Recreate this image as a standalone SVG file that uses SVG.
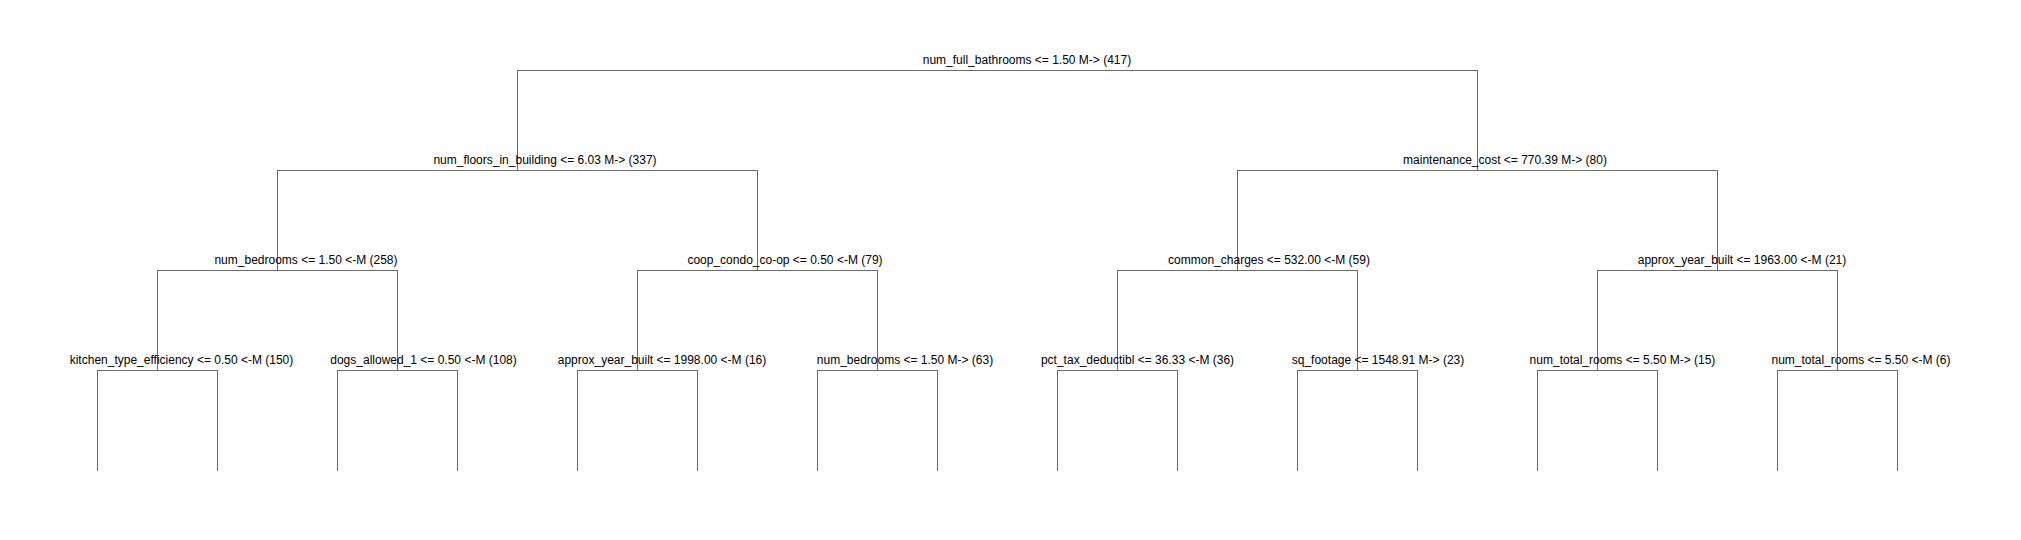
<svg xmlns="http://www.w3.org/2000/svg" width="2021" height="540" viewBox="0 0 2021 540">
<style>
  .bg { fill: #ffffff; }
  .lbl { font-family: "Liberation Sans", Arial, sans-serif; font-size: 12px; fill: #000000; text-anchor: middle; }
  .edge { fill: none; stroke: #6b6b6b; stroke-width: 1; shape-rendering: crispEdges; }
</style>
<rect class="bg" x="0" y="0" width="2021" height="540"/>
<g id="connectors">
  <!-- root split -->
  <path class="edge" d="M517.5,170.5 V70.5 H1477.5 V170.5"/>
  <!-- level 1 splits -->
  <path class="edge" d="M277.5,270.5 V170.5 H757.5 V270.5"/>
  <path class="edge" d="M1237.5,270.5 V170.5 H1717.5 V270.5"/>
  <!-- level 2 splits -->
  <path class="edge" d="M157.5,370.5 V270.5 H397.5 V370.5"/>
  <path class="edge" d="M637.5,370.5 V270.5 H877.5 V370.5"/>
  <path class="edge" d="M1117.5,370.5 V270.5 H1357.5 V370.5"/>
  <path class="edge" d="M1597.5,370.5 V270.5 H1837.5 V370.5"/>
  <!-- level 3 splits to leaves -->
  <path class="edge" d="M97.5,470.5 V370.5 H217.5 V470.5"/>
  <path class="edge" d="M337.5,470.5 V370.5 H457.5 V470.5"/>
  <path class="edge" d="M577.5,470.5 V370.5 H697.5 V470.5"/>
  <path class="edge" d="M817.5,470.5 V370.5 H937.5 V470.5"/>
  <path class="edge" d="M1057.5,470.5 V370.5 H1177.5 V470.5"/>
  <path class="edge" d="M1297.5,470.5 V370.5 H1417.5 V470.5"/>
  <path class="edge" d="M1537.5,470.5 V370.5 H1657.5 V470.5"/>
  <path class="edge" d="M1777.5,470.5 V370.5 H1897.5 V470.5"/>
</g>
<g id="node-root"><text class="lbl" x="1027" y="64">num_full_bathrooms &lt;= 1.50 M-&gt; (417)</text></g>
<g id="node-num-floors"><text class="lbl" x="545" y="164">num_floors_in_building &lt;= 6.03 M-&gt; (337)</text></g>
<g id="node-maintenance"><text class="lbl" x="1505" y="164">maintenance_cost &lt;= 770.39 M-&gt; (80)</text></g>
<g id="node-num-bedrooms-258"><text class="lbl" x="306" y="264">num_bedrooms &lt;= 1.50 &lt;-M (258)</text></g>
<g id="node-coop"><text class="lbl" x="785" y="264">coop_condo_co-op &lt;= 0.50 &lt;-M (79)</text></g>
<g id="node-common-charges"><text class="lbl" x="1269" y="264">common_charges &lt;= 532.00 &lt;-M (59)</text></g>
<g id="node-approx-1963"><text class="lbl" x="1742" y="264">approx_year_built &lt;= 1963.00 &lt;-M (21)</text></g>
<g id="node-kitchen"><text class="lbl" x="181.5" y="364">kitchen_type_efficiency &lt;= 0.50 &lt;-M (150)</text></g>
<g id="node-dogs"><text class="lbl" x="423.5" y="364">dogs_allowed_1 &lt;= 0.50 &lt;-M (108)</text></g>
<g id="node-approx-1998"><text class="lbl" x="662" y="364">approx_year_built &lt;= 1998.00 &lt;-M (16)</text></g>
<g id="node-num-bedrooms-63"><text class="lbl" x="905" y="364">num_bedrooms &lt;= 1.50 M-&gt; (63)</text></g>
<g id="node-pct-tax"><text class="lbl" x="1137.5" y="364">pct_tax_deductibl &lt;= 36.33 &lt;-M (36)</text></g>
<g id="node-sq-footage"><text class="lbl" x="1378" y="364">sq_footage &lt;= 1548.91 M-&gt; (23)</text></g>
<g id="node-total-rooms-15"><text class="lbl" x="1622.5" y="364">num_total_rooms &lt;= 5.50 M-&gt; (15)</text></g>
<g id="node-total-rooms-6"><text class="lbl" x="1861" y="364">num_total_rooms &lt;= 5.50 &lt;-M (6)</text></g>
</svg>
